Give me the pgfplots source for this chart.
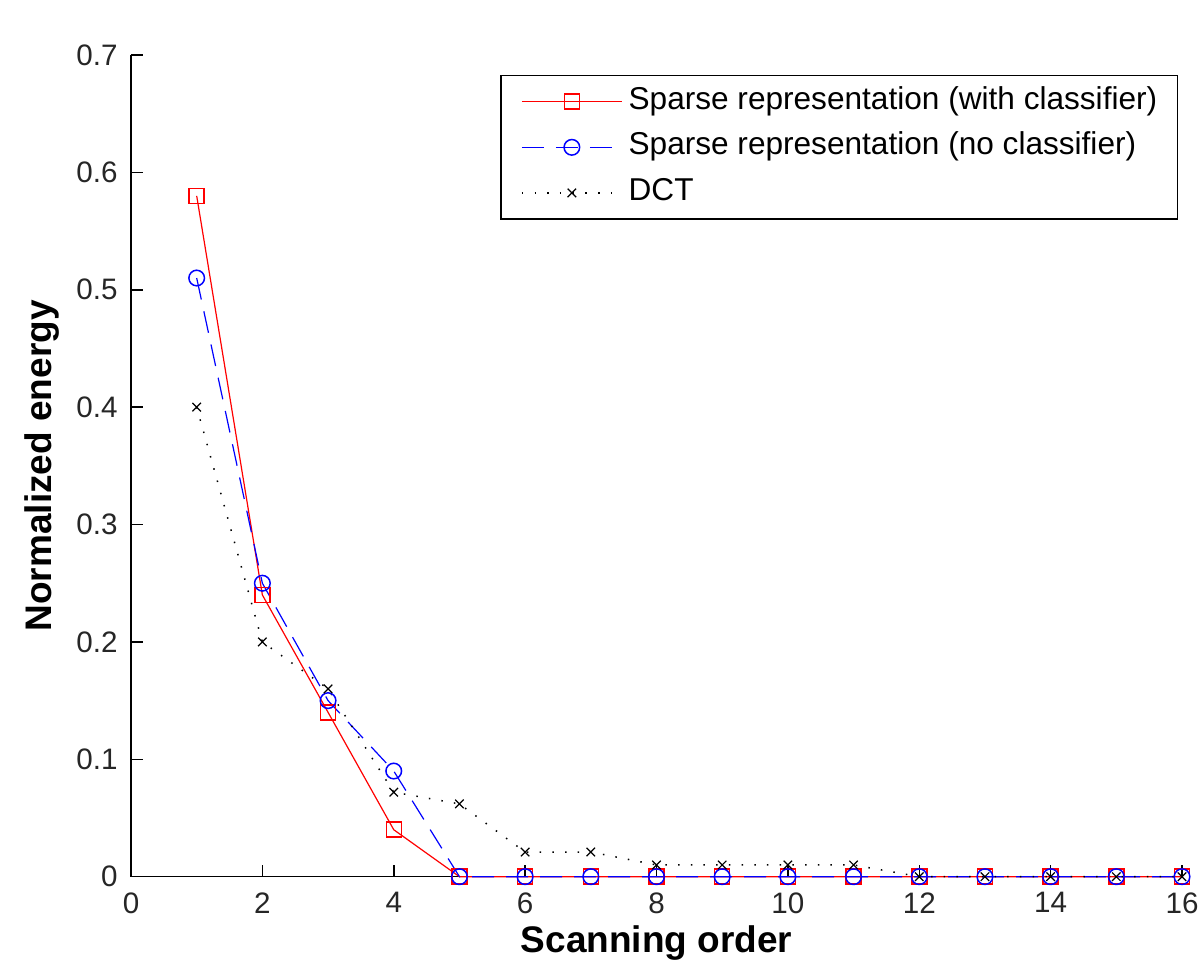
\documentclass[border=0pt]{standalone}
\usepackage{pgfplots}
\pgfplotsset{compat=1.18}
\usepackage{fontspec}
\setmainfont{Liberation Sans}
\begin{document}
\begin{tikzpicture}
\begin{axis}[
  scale only axis, width=525.5pt, height=410.85pt,
  xmin=0, xmax=16, ymin=0, ymax=0.7,
  axis x line*=bottom, axis y line*=left,
  axis line style={line width=0.75pt, black},
  tick align=inside, major tick length=5.8pt,
  tick style={line width=0.75pt, black},
  xtick={0,2,4,6,8,10,12,14,16},
  ytick={0,0.1,0.2,0.3,0.4,0.5,0.6,0.7},
  /pgf/number format/assume math mode=true,
  ticklabel style={font=\fontsize{14.8}{17}\selectfont, text=black!85},
  xticklabel style={anchor=north, inner sep=0pt, yshift=-7.65pt},
  yticklabel style={anchor=east, inner sep=0pt, xshift=-6.5pt},
  xlabel={Scanning order}, ylabel={Normalized energy},
  label style={font=\bfseries\fontsize{18.5}{22}\selectfont},
  xlabel style={at={(axis description cs:0.5,-0.0928)}, anchor=base},
  ylabel style={at={(axis description cs:-0.0752,0.5)}, anchor=base},
  legend style={at={(axis description cs:0.9962,0.9757)}, anchor=north east,
    draw=black, line width=0.75pt, font=\fontsize{15.8}{18}\selectfont,
    inner xsep=10pt, inner ysep=5.75pt, row sep=8.3pt, column sep=3pt,
    nodes={inner sep=0pt, text height=11pt, text depth=3.5pt},
    cells={anchor=west}},
  legend image code/.code={\draw[mark repeat=2,mark phase=2,#1] plot coordinates {(0pt,0pt) (25pt,0pt) (50pt,0pt)};},
  clip=false,
]
\addplot[red, line width=0.6pt, mark=square, mark size=3.75pt, mark options={solid, fill=white, line width=0.75pt}] coordinates {
(1,0.58) (2,0.24) (3,0.14) (4,0.04) (5,0) (6,0) (7,0) (8,0) (9,0) (10,0) (11,0) (12,0) (13,0) (14,0) (15,0) (16,0)};
\addplot[blue, line width=0.6pt, dash pattern=on 11pt off 6pt, mark=o, mark size=3.9pt, mark options={solid, fill=white, line width=0.75pt}] coordinates {
(1,0.51) (2,0.25) (3,0.15) (4,0.09) (5,0) (6,0) (7,0) (8,0) (9,0) (10,0) (11,0) (12,0) (13,0) (14,0) (15,0) (16,0)};
\addplot[black, line width=0.75pt, dash pattern=on 0.75pt off 5.6pt, mark=x, mark size=3pt, mark options={solid, line width=0.6pt}] coordinates {
(1,0.40) (2,0.20) (3,0.16) (4,0.072) (5,0.062) (6,0.021) (7,0.021) (8,0.01) (9,0.01) (10,0.01) (11,0.01) (12,0) (13,0) (14,0) (15,0) (16,0)};
\legend{Sparse representation (with classifier), Sparse representation (no classifier), DCT}
\end{axis}
\path ([xshift=-65.5pt,yshift=-45.65pt]current axis.south west) rectangle ([xshift=10.5pt,yshift=27.5pt]current axis.north east);
\end{tikzpicture}
\end{document}
